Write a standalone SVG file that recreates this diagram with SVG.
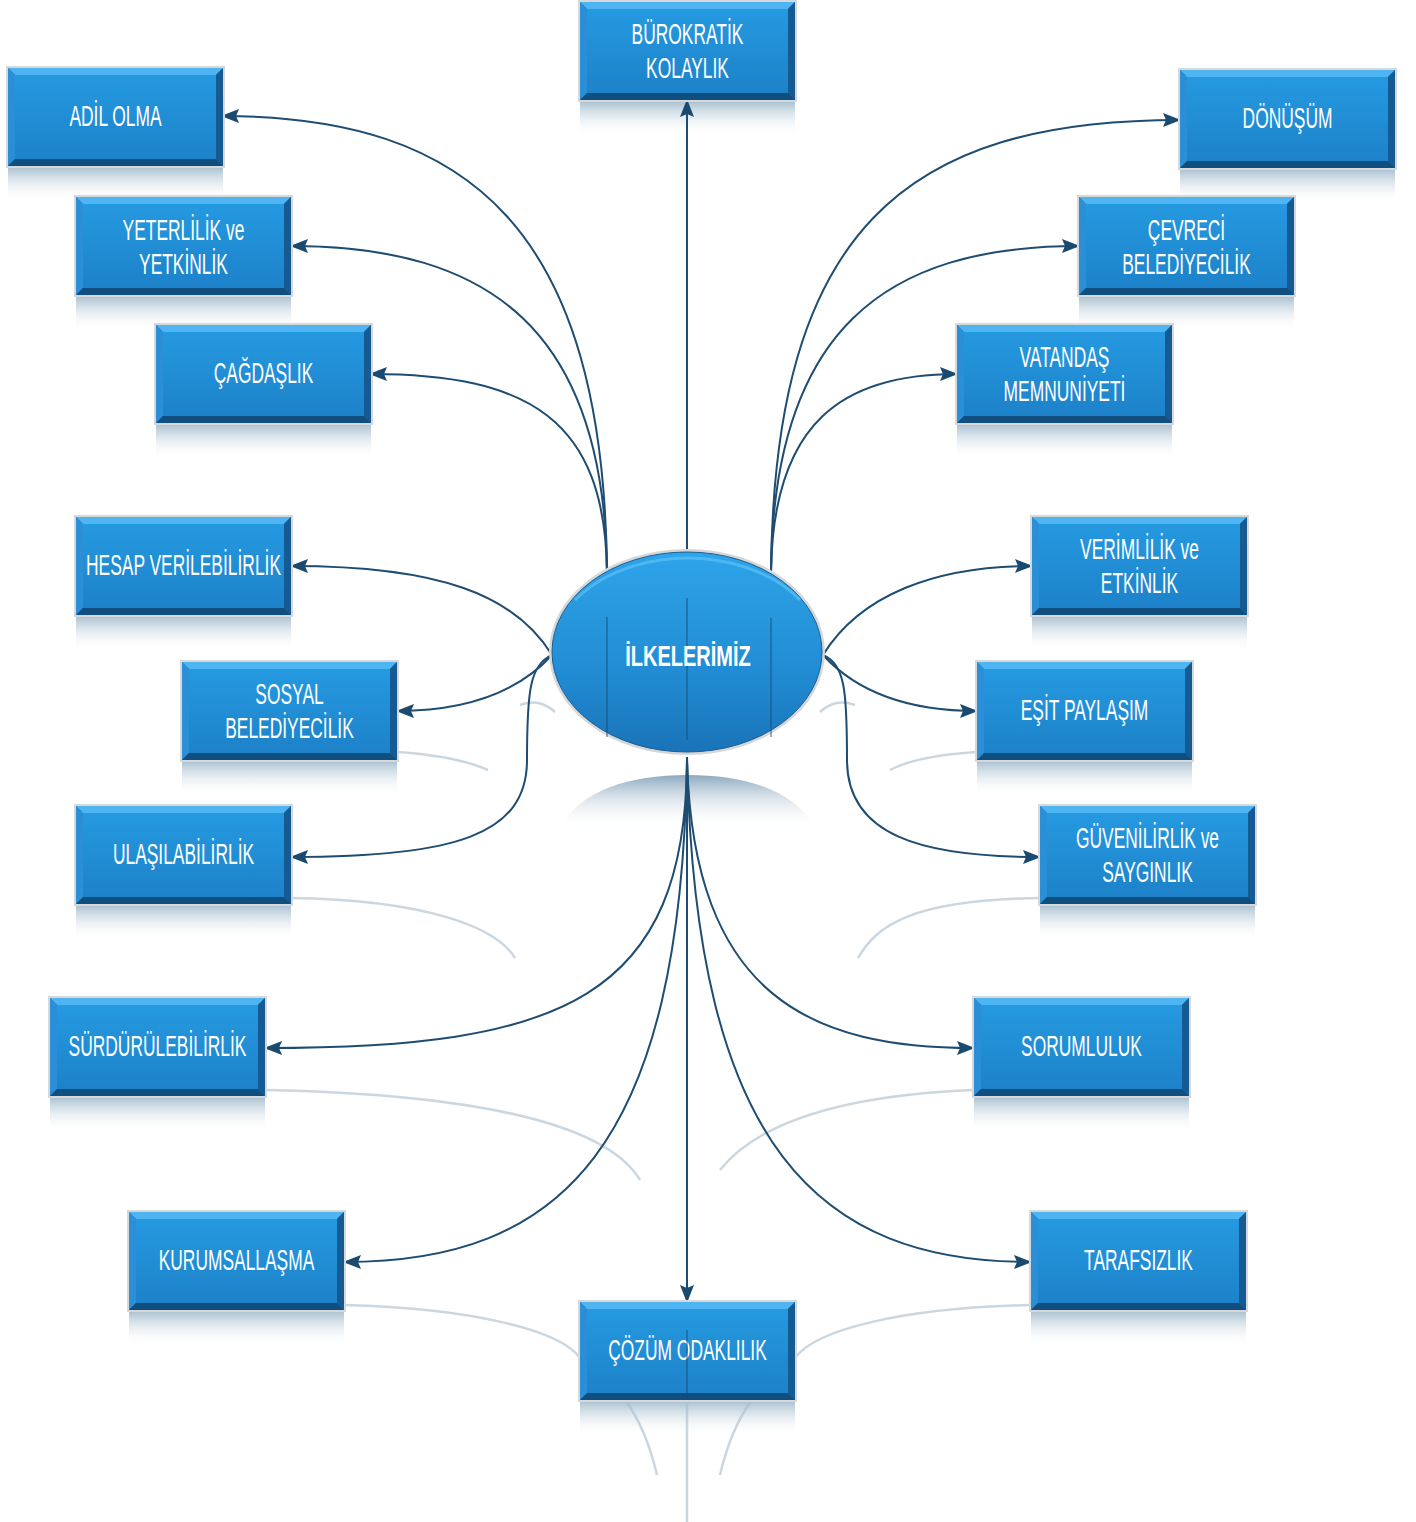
<svg xmlns="http://www.w3.org/2000/svg" xmlns:xlink="http://www.w3.org/1999/xlink" width="1416" height="1522" viewBox="0 0 1416 1522">
<defs>
<style>
.t{font-family:"Liberation Sans","DejaVu Sans",sans-serif;font-size:29px;fill:#ffffff;text-anchor:middle}
.c{fill:none;stroke:#1f4d72;stroke-width:2}
.r{fill:none;stroke:#a9bccb;stroke-width:2.5;opacity:0.6}
.il{stroke:#1a4a70;stroke-width:1.6;opacity:0.55}
.rf{fill:url(#refl)}
</style>
<linearGradient id="face" x1="0" y1="0" x2="0" y2="1">
<stop offset="0" stop-color="#2599e0"/>
<stop offset="1" stop-color="#1d82c9"/>
</linearGradient>
<linearGradient id="refl" x1="0" y1="0" x2="0" y2="1">
<stop offset="0" stop-color="#9fb8ca" stop-opacity="0.85"/>
<stop offset="1" stop-color="#ffffff" stop-opacity="0"/>
</linearGradient>
<linearGradient id="ellg" x1="0" y1="0" x2="0" y2="1">
<stop offset="0" stop-color="#2ea4ea"/>
<stop offset="0.6" stop-color="#218cd3"/>
<stop offset="1" stop-color="#1a73b8"/>
</linearGradient>
<linearGradient id="ellr" x1="0" y1="0" x2="0" y2="1">
<stop offset="0" stop-color="#7f9fb7" stop-opacity="0.9"/>
<stop offset="1" stop-color="#ffffff" stop-opacity="0"/>
</linearGradient>
<marker id="ah" viewBox="0 0 18 16" refX="17" refY="8" markerWidth="18" markerHeight="16" markerUnits="userSpaceOnUse" orient="auto">
<path d="M0,1 L18,8 L0,15 L3,8 Z" fill="#1b4a70"/>
</marker>
<g id="box">
<rect x="-2" y="-2" width="219" height="102" fill="#d6d8da"/>
<rect x="0" y="0" width="215" height="98" fill="#1b6aa6"/>
<polygon points="0,0 215,0 208,7 7,7" fill="#4fb5f2"/>
<polygon points="0,0 7,7 7,91 0,98" fill="#2a8fd6"/>
<polygon points="215,0 215,98 208,91 208,7" fill="#155a92"/>
<polygon points="0,98 215,98 208,91 7,91" fill="#104e80"/>
<rect x="7" y="7" width="201" height="84" fill="url(#face)"/>
</g>
</defs>
<rect width="1416" height="1522" fill="#ffffff"/>

<g id="reflections">
<rect class="rf" x="580" y="102" width="215" height="34"/>
<rect class="rf" x="8" y="168" width="215" height="34"/>
<rect class="rf" x="1180" y="170" width="215" height="34"/>
<rect class="rf" x="76" y="297" width="215" height="34"/>
<rect class="rf" x="1079" y="297" width="215" height="34"/>
<rect class="rf" x="156" y="425" width="215" height="34"/>
<rect class="rf" x="957" y="425" width="215" height="34"/>
<rect class="rf" x="76" y="617" width="215" height="34"/>
<rect class="rf" x="1032" y="617" width="215" height="34"/>
<rect class="rf" x="182" y="762" width="215" height="34"/>
<rect class="rf" x="977" y="762" width="215" height="34"/>
<rect class="rf" x="76" y="906" width="215" height="34"/>
<rect class="rf" x="1040" y="906" width="215" height="34"/>
<rect class="rf" x="50" y="1098" width="215" height="34"/>
<rect class="rf" x="974" y="1098" width="215" height="34"/>
<rect class="rf" x="129" y="1312" width="215" height="34"/>
<rect class="rf" x="1031" y="1312" width="215" height="34"/>
<rect class="rf" x="580" y="1402" width="215" height="34"/>
<path d="M560,828 C580,790 630,775 687,775 C745,775 795,790 815,828 Z" fill="url(#ellr)"/>
<path class="r" d="M292,898 C420,900 495,925 515,958"/>
<path class="r" d="M1040,898 C912,900 877,925 858,958"/>
<path class="r" d="M267,1090 C500,1095 610,1130 640,1180"/>
<path class="r" d="M974,1090 C850,1095 760,1120 720,1170"/>
<path class="r" d="M345,1305 C470,1308 560,1330 580,1358"/>
<path class="r" d="M1031,1305 C900,1308 815,1330 795,1358"/>
<path class="r" d="M398,752 C440,755 470,762 488,770"/>
<path class="r" d="M977,752 C930,755 905,762 890,770"/>
<path class="r" d="M520,705 C535,700 545,703 555,712"/>
<path class="r" d="M855,705 C840,700 830,703 820,712"/>
<path class="r" d="M687,1400 L687,1522"/>
<path class="r" d="M625,1400 C640,1420 650,1445 657,1475"/>
<path class="r" d="M752,1400 C737,1420 727,1445 720,1475"/>
</g>

<g id="connectors">
<path class="c" marker-end="url(#ah)" d="M687,552 L687,100"/>
<path class="c" marker-end="url(#ah)" d="M607,572 C604,230 470,116 222,116"/>
<path class="c" marker-end="url(#ah)" d="M607,572 C605,330 490,246 291,246"/>
<path class="c" marker-end="url(#ah)" d="M607,572 C605,420 530,374 370,374"/>
<path class="c" marker-end="url(#ah)" d="M771,572 C774,230 905,120 1180,120"/>
<path class="c" marker-end="url(#ah)" d="M771,572 C773,330 885,246 1079,246"/>
<path class="c" marker-end="url(#ah)" d="M771,572 C773,420 845,374 957,374"/>
<path class="c" marker-end="url(#ah)" d="M552,655 C515,595 440,566 291,566"/>
<path class="c" marker-end="url(#ah)" d="M552,655 C520,690 470,711 397,711"/>
<path class="c" marker-end="url(#ah)" d="M552,655 C530,665 527,690 527,760 C527,835 455,857 291,857"/>
<path class="c" marker-end="url(#ah)" d="M823,655 C860,595 935,566 1032,566"/>
<path class="c" marker-end="url(#ah)" d="M823,655 C855,690 905,711 977,711"/>
<path class="c" marker-end="url(#ah)" d="M823,655 C845,665 847,690 847,760 C847,835 920,857 1040,857"/>
<path class="c" marker-end="url(#ah)" d="M687,757 L687,1302"/>
<path class="c" marker-end="url(#ah)" d="M687,757 C687,1000 560,1048 265,1048"/>
<path class="c" marker-end="url(#ah)" d="M687,757 C682,1150 560,1262 344,1262"/>
<path class="c" marker-end="url(#ah)" d="M687,757 C692,1000 815,1048 974,1048"/>
<path class="c" marker-end="url(#ah)" d="M687,757 C695,1150 820,1262 1031,1262"/>
</g>

<g id="n-center">
<ellipse cx="687" cy="652" rx="138" ry="103" fill="#d4d6d8"/>
<ellipse cx="687" cy="652" rx="135" ry="100" fill="url(#ellg)" stroke="#1a5f95" stroke-width="1"/>
<path d="M575,600 C610,565 660,558 687,558 C720,558 770,568 800,600" fill="none" stroke="#5cc0f5" stroke-width="3" opacity="0.7"/>
<line class="il" x1="607" y1="617" x2="607" y2="737"/>
<line class="il" x1="687" y1="598" x2="687" y2="740"/>
<line class="il" x1="771" y1="618" x2="771" y2="737"/>
<text class="t" style="font-weight:bold" transform="translate(688,666) scale(0.69,1)">İLKELERİMİZ</text>
</g>

<g id="n-burokratik" transform="translate(580,2)"><use href="#box"/><text class="t" transform="translate(107.5,42) scale(0.6,1)">BÜROKRATİK</text><text class="t" transform="translate(107.5,76) scale(0.6,1)">KOLAYLIK</text></g>
<g id="n-adil" transform="translate(8,68)"><use href="#box"/><text class="t" transform="translate(107.5,58) scale(0.6,1)">ADİL OLMA</text></g>
<g id="n-donusum" transform="translate(1180,70)"><use href="#box"/><text class="t" transform="translate(107.5,58) scale(0.6,1)">DÖNÜŞÜM</text></g>
<g id="n-yeterlilik" transform="translate(76,197)"><use href="#box"/><text class="t" transform="translate(107.5,43) scale(0.6,1)">YETERLİLİK ve</text><text class="t" transform="translate(107.5,77) scale(0.6,1)">YETKİNLİK</text></g>
<g id="n-cevreci" transform="translate(1079,197)"><use href="#box"/><text class="t" transform="translate(107.5,43) scale(0.6,1)">ÇEVRECİ</text><text class="t" transform="translate(107.5,77) scale(0.6,1)">BELEDİYECİLİK</text></g>
<g id="n-cagdaslik" transform="translate(156,325)"><use href="#box"/><text class="t" transform="translate(107.5,58) scale(0.6,1)">ÇAĞDAŞLIK</text></g>
<g id="n-vatandas" transform="translate(957,325)"><use href="#box"/><text class="t" transform="translate(107.5,42) scale(0.6,1)">VATANDAŞ</text><text class="t" transform="translate(107.5,76) scale(0.6,1)">MEMNUNİYETİ</text></g>
<g id="n-hesap" transform="translate(76,517)"><use href="#box"/><text class="t" transform="translate(107.5,58) scale(0.6,1)">HESAP VERİLEBİLİRLİK</text></g>
<g id="n-verimlilik" transform="translate(1032,517)"><use href="#box"/><text class="t" transform="translate(107.5,42) scale(0.6,1)">VERİMLİLİK ve</text><text class="t" transform="translate(107.5,76) scale(0.6,1)">ETKİNLİK</text></g>
<g id="n-sosyal" transform="translate(182,662)"><use href="#box"/><text class="t" transform="translate(107.5,42) scale(0.6,1)">SOSYAL</text><text class="t" transform="translate(107.5,76) scale(0.6,1)">BELEDİYECİLİK</text></g>
<g id="n-esit" transform="translate(977,662)"><use href="#box"/><text class="t" transform="translate(107.5,58) scale(0.6,1)">EŞİT PAYLAŞIM</text></g>
<g id="n-ulasilabilirlik" transform="translate(76,806)"><use href="#box"/><text class="t" transform="translate(107.5,58) scale(0.6,1)">ULAŞILABİLİRLİK</text></g>
<g id="n-guvenilirlik" transform="translate(1040,806)"><use href="#box"/><text class="t" transform="translate(107.5,42) scale(0.6,1)">GÜVENİLİRLİK ve</text><text class="t" transform="translate(107.5,76) scale(0.6,1)">SAYGINLIK</text></g>
<g id="n-surdurulebilirlik" transform="translate(50,998)"><use href="#box"/><text class="t" transform="translate(107.5,58) scale(0.6,1)">SÜRDÜRÜLEBİLİRLİK</text></g>
<g id="n-sorumluluk" transform="translate(974,998)"><use href="#box"/><text class="t" transform="translate(107.5,58) scale(0.6,1)">SORUMLULUK</text></g>
<g id="n-kurumsallasma" transform="translate(129,1212)"><use href="#box"/><text class="t" transform="translate(107.5,58) scale(0.6,1)">KURUMSALLAŞMA</text></g>
<g id="n-tarafsizlik" transform="translate(1031,1212)"><use href="#box"/><text class="t" transform="translate(107.5,58) scale(0.6,1)">TARAFSIZLIK</text></g>
<g id="n-cozum" transform="translate(580,1302)"><use href="#box"/><text class="t" transform="translate(107.5,58) scale(0.6,1)">ÇÖZÜM ODAKLILIK</text></g>
<line class="il" x1="687" y1="1330" x2="687" y2="1398"/>
</svg>
